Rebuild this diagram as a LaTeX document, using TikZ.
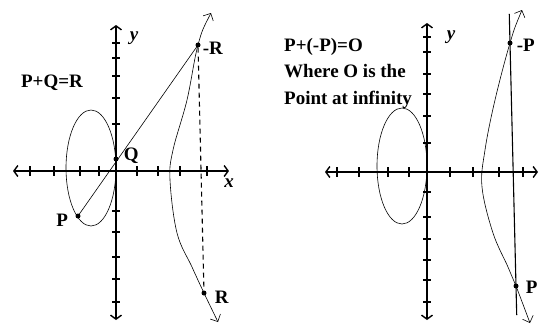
\documentclass[tikz,border=0pt]{standalone}
\usepackage{fontspec}
\setmainfont{Liberation Serif}
\usetikzlibrary{arrows.meta, positioning, calc}

\tikzset{
  axis/.style={line width=1.4pt, {Straight Barb[length=4pt,width=11pt]}-{Straight Barb[length=4pt,width=11pt]}},
  tick/.style={line width=2.8pt},
  curve/.style={line width=0.6pt, {Straight Barb[angle=90:8pt]}-{Straight Barb[angle=90:8pt]}},
  dot/.style={circle, fill, inner sep=0pt, minimum size=5pt},
  lbl/.style={font=\fontsize{19}{23}\selectfont\bfseries, inner sep=1pt},
  axlbl/.style={font=\fontsize{19}{23}\selectfont\bfseries\itshape, inner sep=1pt},
}

\begin{document}
\begin{tikzpicture}[x=1pt, y=-1pt]
\useasboundingbox (0,0) rectangle (539,327);

% Left panel: adding two points
\draw[axis] (13,171) -- (229,171);
\draw[axis] (116,25) -- (116,320);
\foreach \tx in {30,54,80,99,137,158,180,207}
  \draw[tick] (\tx,166) -- (\tx,176);
\foreach \ty in {43,58,76,98,124,211,232,257,279,302}
  \draw[tick] (112,\ty) -- (120,\ty);
\node[axlbl] (ylabA) at (134,38) {y};
\node[axlbl] (xlabA) at (229,183) {x};

\draw[line width=0.6pt] (91,168) ellipse [x radius=25, y radius=58];
\draw[curve] plot[smooth, tension=0.6] coordinates {(211,13) (198,45) (187,100) (173,150) (170,180) (177,233) (192,267) (204,293) (218,322)};

\node[dot] (mR) at (198,45) {};
\node[dot] (Q) at (116,159) {};
\node[dot] (P) at (78,216) {};
\node[dot] (R) at (204,293) {};

\draw[line width=0.6pt] (P.center) -- (mR.center);
\draw[line width=1.1pt, dash pattern=on 5pt off 4pt] (mR) -- (R);

\node[lbl, right=1pt of mR, yshift=-3pt] (mRlab) {-R};
\node[lbl, right=4pt of Q, yshift=3pt] (Qlab) {Q};
\node[lbl, left=6pt of P, yshift=-4pt] (Plab) {P};
\node[lbl, right=7pt of R, yshift=-4pt] (Rlab) {R};
\node[lbl] (sumA) at (52,83) {P+Q=R};

% Right panel: point plus its negative
\draw[axis] (325,172) -- (538,172);
\draw[axis] (427,23) -- (427,320);
\foreach \tx in {337,359,388,409,450,473,499,523}
  \draw[tick] (\tx,167) -- (\tx,177);
\foreach \ty in {37,52,74,94,116,143,192,217,239,260,280,302}
  \draw[tick] (423,\ty) -- (431,\ty);
\node[axlbl] (ylabB) at (451,37) {y};

\draw[line width=0.6pt] (402,166) ellipse [x radius=25, y radius=58];
\draw[curve] plot[smooth, tension=0.6] coordinates {(522,10) (510,43) (495,100) (485,150) (482,187) (493,233) (508,267) (516,286) (530,323)};

\node[dot] (mP) at (510,43) {};
\node[dot] (PB) at (516,286) {};

\draw[line width=1.1pt] ($(mP)!-0.12!(PB)$) -- ($(mP)!1.12!(PB)$);

\node[lbl, right=3pt of mP, yshift=-2pt] (mPlab) {-P};
\node[lbl, right=6pt of PB, yshift=-1pt] (PBlab) {P};
\node[lbl, anchor=west, align=left, font=\fontsize{19}{26.5}\selectfont\bfseries] (sumB) at (283,73)
  {P+(-P)=O\\Where O is the\\Point at infinity};
\end{tikzpicture}
\end{document}
